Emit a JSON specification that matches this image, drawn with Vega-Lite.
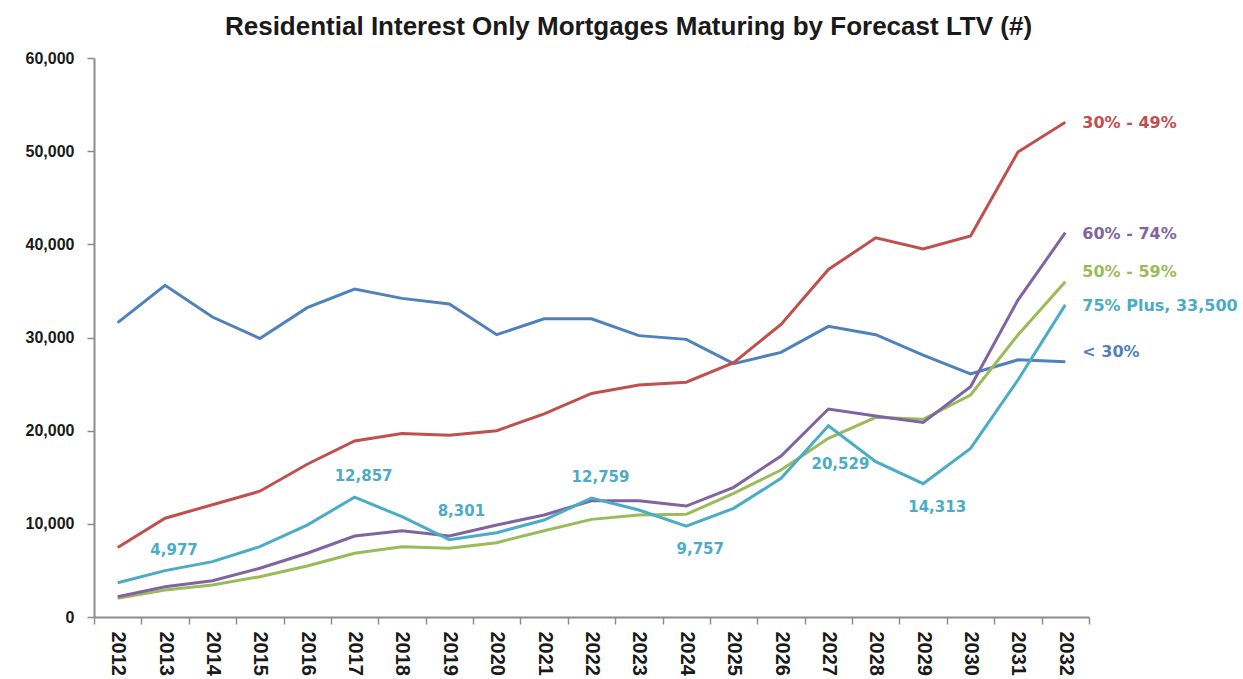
{
  "$schema": "https://vega.github.io/schema/vega-lite/v6.json",
  "autosize": "none",
  "width": 995,
  "height": 559,
  "padding": {"left": 94, "top": 58, "right": 154, "bottom": 62},
  "background": "white",
  "title": {
    "text": "Residential Interest Only Mortgages Maturing by Forecast LTV (#)",
    "font": "Liberation Sans",
    "fontSize": 26,
    "fontWeight": "bold",
    "color": "#1a1a1a",
    "anchor": "middle",
    "dx": 37,
    "offset": 10
  },
  "config": {
    "view": {"stroke": null}
  },
  "data": {
    "values": [
      {"series": "< 30%", "year": 2012, "value": 31600},
      {"series": "< 30%", "year": 2013, "value": 35600},
      {"series": "< 30%", "year": 2014, "value": 32200},
      {"series": "< 30%", "year": 2015, "value": 29900},
      {"series": "< 30%", "year": 2016, "value": 33200},
      {"series": "< 30%", "year": 2017, "value": 35200},
      {"series": "< 30%", "year": 2018, "value": 34200},
      {"series": "< 30%", "year": 2019, "value": 33600},
      {"series": "< 30%", "year": 2020, "value": 30300},
      {"series": "< 30%", "year": 2021, "value": 32000},
      {"series": "< 30%", "year": 2022, "value": 32000},
      {"series": "< 30%", "year": 2023, "value": 30200},
      {"series": "< 30%", "year": 2024, "value": 29800},
      {"series": "< 30%", "year": 2025, "value": 27200},
      {"series": "< 30%", "year": 2026, "value": 28400},
      {"series": "< 30%", "year": 2027, "value": 31200},
      {"series": "< 30%", "year": 2028, "value": 30300},
      {"series": "< 30%", "year": 2029, "value": 28100},
      {"series": "< 30%", "year": 2030, "value": 26100},
      {"series": "< 30%", "year": 2031, "value": 27600},
      {"series": "< 30%", "year": 2032, "value": 27400},
      {"series": "30% - 49%", "year": 2012, "value": 7450},
      {"series": "30% - 49%", "year": 2013, "value": 10600},
      {"series": "30% - 49%", "year": 2014, "value": 12050},
      {"series": "30% - 49%", "year": 2015, "value": 13500},
      {"series": "30% - 49%", "year": 2016, "value": 16400},
      {"series": "30% - 49%", "year": 2017, "value": 18900},
      {"series": "30% - 49%", "year": 2018, "value": 19700},
      {"series": "30% - 49%", "year": 2019, "value": 19500},
      {"series": "30% - 49%", "year": 2020, "value": 20000},
      {"series": "30% - 49%", "year": 2021, "value": 21800},
      {"series": "30% - 49%", "year": 2022, "value": 24000},
      {"series": "30% - 49%", "year": 2023, "value": 24900},
      {"series": "30% - 49%", "year": 2024, "value": 25200},
      {"series": "30% - 49%", "year": 2025, "value": 27300},
      {"series": "30% - 49%", "year": 2026, "value": 31400},
      {"series": "30% - 49%", "year": 2027, "value": 37300},
      {"series": "30% - 49%", "year": 2028, "value": 40700},
      {"series": "30% - 49%", "year": 2029, "value": 39500},
      {"series": "30% - 49%", "year": 2030, "value": 40900},
      {"series": "30% - 49%", "year": 2031, "value": 49900},
      {"series": "30% - 49%", "year": 2032, "value": 53100},
      {"series": "50% - 59%", "year": 2012, "value": 2000},
      {"series": "50% - 59%", "year": 2013, "value": 2900},
      {"series": "50% - 59%", "year": 2014, "value": 3430},
      {"series": "50% - 59%", "year": 2015, "value": 4330},
      {"series": "50% - 59%", "year": 2016, "value": 5470},
      {"series": "50% - 59%", "year": 2017, "value": 6840},
      {"series": "50% - 59%", "year": 2018, "value": 7550},
      {"series": "50% - 59%", "year": 2019, "value": 7370},
      {"series": "50% - 59%", "year": 2020, "value": 7980},
      {"series": "50% - 59%", "year": 2021, "value": 9260},
      {"series": "50% - 59%", "year": 2022, "value": 10480},
      {"series": "50% - 59%", "year": 2023, "value": 10950},
      {"series": "50% - 59%", "year": 2024, "value": 11020},
      {"series": "50% - 59%", "year": 2025, "value": 13270},
      {"series": "50% - 59%", "year": 2026, "value": 15780},
      {"series": "50% - 59%", "year": 2027, "value": 19180},
      {"series": "50% - 59%", "year": 2028, "value": 21430},
      {"series": "50% - 59%", "year": 2029, "value": 21220},
      {"series": "50% - 59%", "year": 2030, "value": 23830},
      {"series": "50% - 59%", "year": 2031, "value": 30270},
      {"series": "50% - 59%", "year": 2032, "value": 35990},
      {"series": "60% - 74%", "year": 2012, "value": 2180},
      {"series": "60% - 74%", "year": 2013, "value": 3250},
      {"series": "60% - 74%", "year": 2014, "value": 3900},
      {"series": "60% - 74%", "year": 2015, "value": 5230},
      {"series": "60% - 74%", "year": 2016, "value": 6840},
      {"series": "60% - 74%", "year": 2017, "value": 8690},
      {"series": "60% - 74%", "year": 2018, "value": 9260},
      {"series": "60% - 74%", "year": 2019, "value": 8690},
      {"series": "60% - 74%", "year": 2020, "value": 9870},
      {"series": "60% - 74%", "year": 2021, "value": 10950},
      {"series": "60% - 74%", "year": 2022, "value": 12480},
      {"series": "60% - 74%", "year": 2023, "value": 12480},
      {"series": "60% - 74%", "year": 2024, "value": 11910},
      {"series": "60% - 74%", "year": 2025, "value": 13920},
      {"series": "60% - 74%", "year": 2026, "value": 17280},
      {"series": "60% - 74%", "year": 2027, "value": 22320},
      {"series": "60% - 74%", "year": 2028, "value": 21570},
      {"series": "60% - 74%", "year": 2029, "value": 20890},
      {"series": "60% - 74%", "year": 2030, "value": 24720},
      {"series": "60% - 74%", "year": 2031, "value": 34020},
      {"series": "60% - 74%", "year": 2032, "value": 41250},
      {"series": "75% Plus", "year": 2012, "value": 3680},
      {"series": "75% Plus", "year": 2013, "value": 4977},
      {"series": "75% Plus", "year": 2014, "value": 5940},
      {"series": "75% Plus", "year": 2015, "value": 7550},
      {"series": "75% Plus", "year": 2016, "value": 9870},
      {"series": "75% Plus", "year": 2017, "value": 12857},
      {"series": "75% Plus", "year": 2018, "value": 10770},
      {"series": "75% Plus", "year": 2019, "value": 8301},
      {"series": "75% Plus", "year": 2020, "value": 9050},
      {"series": "75% Plus", "year": 2021, "value": 10410},
      {"series": "75% Plus", "year": 2022, "value": 12759},
      {"series": "75% Plus", "year": 2023, "value": 11480},
      {"series": "75% Plus", "year": 2024, "value": 9757},
      {"series": "75% Plus", "year": 2025, "value": 11660},
      {"series": "75% Plus", "year": 2026, "value": 14880},
      {"series": "75% Plus", "year": 2027, "value": 20529},
      {"series": "75% Plus", "year": 2028, "value": 16670},
      {"series": "75% Plus", "year": 2029, "value": 14313},
      {"series": "75% Plus", "year": 2030, "value": 18100},
      {"series": "75% Plus", "year": 2031, "value": 25440},
      {"series": "75% Plus", "year": 2032, "value": 33500}
    ]
  },
  "encoding": {
    "x": {
      "field": "year",
      "type": "ordinal",
      "scale": {"type": "band", "paddingInner": 0, "paddingOuter": 0},
      "axis": {
        "title": null,
        "domainColor": "#8c8c8c",
        "domainWidth": 2,
        "tickColor": "#8c8c8c",
        "tickWidth": 1.5,
        "tickBand": "extent",
        "tickSize": 7,
        "labelAngle": 90,
        "labelAlign": "left",
        "labelBaseline": "middle",
        "labelPadding": 7,
        "labelFont": "Liberation Sans",
        "labelFontSize": 20,
        "labelFontWeight": "bold",
        "labelColor": "#1a1a1a"
      }
    },
    "y": {
      "field": "value",
      "type": "quantitative",
      "scale": {"domain": [0, 60000], "nice": false},
      "axis": {
        "title": null,
        "values": [0, 10000, 20000, 30000, 40000, 50000, 60000],
        "format": ",.0f",
        "grid": false,
        "domainColor": "#8c8c8c",
        "domainWidth": 2,
        "tickColor": "#8c8c8c",
        "tickWidth": 1.5,
        "tickSize": 7,
        "labelPadding": 13,
        "labelFont": "Liberation Sans",
        "labelFontSize": 16,
        "labelFontWeight": "bold",
        "labelColor": "#1a1a1a"
      }
    },
    "color": {
      "field": "series",
      "type": "nominal",
      "scale": {
        "domain": ["< 30%", "30% - 49%", "50% - 59%", "60% - 74%", "75% Plus"],
        "range": ["#4F81BD", "#C0504D", "#9BBB59", "#8064A2", "#4BACC6"]
      },
      "legend": null
    }
  },
  "layer": [
    {
      "mark": {"type": "line", "strokeWidth": 3}
    },
    {
      "transform": [
        {"filter": "datum.year == 2032 && (datum.series == '30% - 49%' || datum.series == '60% - 74%' || datum.series == '75% Plus')"},
        {"calculate": "datum.series == '75% Plus' ? datum.series + ', ' + format(datum.value, ',') : datum.series", "as": "endLabel"}
      ],
      "mark": {"type": "text", "font": "DejaVu Sans", "align": "left", "baseline": "middle", "dx": 17, "dy": 1, "fontSize": 16, "fontWeight": "bold"},
      "encoding": {"text": {"field": "endLabel"}}
    },
    {
      "transform": [
        {"filter": "datum.year == 2032 && (datum.series == '50% - 59%' || datum.series == '< 30%')"}
      ],
      "mark": {"type": "text", "font": "DejaVu Sans", "align": "left", "baseline": "middle", "dx": 17, "dy": -10, "fontSize": 16, "fontWeight": "bold"},
      "encoding": {"text": {"field": "series"}}
    },
    {
      "transform": [
        {"filter": "datum.series == '75% Plus' && indexof([2013, 2017, 2022], datum.year) >= 0"}
      ],
      "mark": {"type": "text", "font": "DejaVu Sans", "align": "center", "baseline": "middle", "dx": 9, "dy": -21, "fontSize": 15, "fontWeight": "bold"},
      "encoding": {"text": {"field": "value", "format": ","}}
    },
    {
      "transform": [
        {"filter": "datum.series == '75% Plus' && datum.year == 2019"}
      ],
      "mark": {"type": "text", "font": "DejaVu Sans", "align": "center", "baseline": "middle", "dx": 12, "dy": -29, "fontSize": 15, "fontWeight": "bold"},
      "encoding": {"text": {"field": "value", "format": ","}}
    },
    {
      "transform": [
        {"filter": "datum.series == '75% Plus' && indexof([2024, 2029], datum.year) >= 0"}
      ],
      "mark": {"type": "text", "font": "DejaVu Sans", "align": "center", "baseline": "middle", "dx": 14, "dy": 23, "fontSize": 15, "fontWeight": "bold"},
      "encoding": {"text": {"field": "value", "format": ","}}
    },
    {
      "transform": [
        {"filter": "datum.series == '75% Plus' && datum.year == 2027"}
      ],
      "mark": {"type": "text", "font": "DejaVu Sans", "align": "center", "baseline": "middle", "dx": 12, "dy": 38, "fontSize": 15, "fontWeight": "bold"},
      "encoding": {"text": {"field": "value", "format": ","}}
    }
  ]
}
